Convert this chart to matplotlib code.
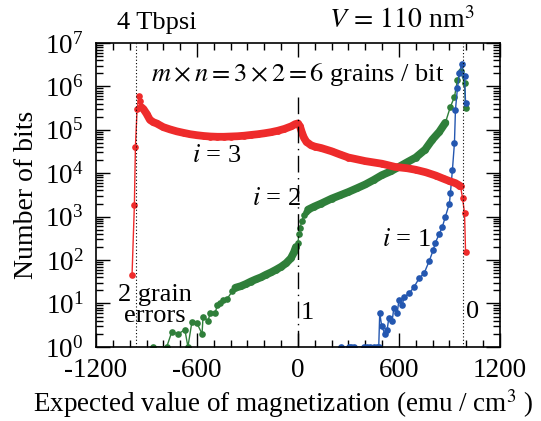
import numpy as np
import matplotlib
matplotlib.use("Agg")
import matplotlib.pyplot as plt
from matplotlib.ticker import MultipleLocator, LogLocator, NullFormatter

plt.rcParams['font.family'] = ['Liberation Serif', 'DejaVu Serif']
plt.rcParams['mathtext.fontset'] = 'stix'
plt.rcParams['axes.unicode_minus'] = False
plt.rcParams['font.size'] = 20

## DATA
# i = 3 (red)
red_x = [-986, -972, -966, -956, -944, -940, -930, -918, -900, -880, -860, -840, -800,
         -760, -720, -680, -640, -600, -560, -520, -480, -440, -400, -360, -320, -280,
         -240, -200, -160, -120, -80, -40, -16, 0, 12, 24, 36, 50, 78, 100, 138, 200,
         250, 300, 400, 500, 576, 650, 700, 760, 820, 860, 900, 936, 960, 966, 978, 990, 996]
red_y = [45, 1900, 4e4, 3e5, 6e5, 4.5e5, 3.3e5, 3e5, 2.35e5, 1.7e5, 1.5e5, 1.4e5, 1.15e5,
         1.02e5, 9.2e4, 8.5e4, 7.9e4, 7.5e4, 7.2e4, 7.0e4, 6.9e4, 6.9e4, 7.0e4, 7.1e4, 7.3e4, 7.6e4,
         7.9e4, 8.3e4, 8.8e4, 9.5e4, 1.05e5, 1.2e5, 1.35e5, 1.4e5, 1.2e5, 8.5e4, 6.5e4, 5.3e4, 4.4e4, 4.1e4, 3.8e4, 3.2e4,
         2.7e4, 2.3e4, 1.9e4, 1.65e4, 1.4e4, 1.3e4, 1.2e4, 1.05e4, 8.8e3, 7.6e3, 6.6e3, 5.9e3, 5.2e3, 5.0e3, 2.7e3, 1.2e3, 155]

# i = 2 (green)
green_x = [-862, -780, -750, -710, -672, -654, -630, -600, -570, -564, -534, -522, -492,
           -480, -462, -444, -420, -390, -372, -340, -310, -280, -250, -220, -190, -160,
           -130, -100, -70, -42, -24, -12, 0, 6, 12, 24, 36, 48, 60, 96, 138, 200, 250,
           300, 350, 400, 450, 498, 550, 600, 650, 700, 756, 798, 840, 876, 906, 930, 948, 966, 990, 996]
green_y = [1, 1, 2.2, 2, 2.5, 1, 3.8, 3.5, 2, 5, 4, 6, 6,
           9, 10, 12, 13, 19, 23, 25, 28, 32, 36, 40, 46, 52,
           60, 70, 85, 110, 150, 200, 250, 400, 550, 800, 1100, 1300, 1450, 1700, 2000, 2600, 3100,
           3700, 4500, 5500, 7000, 9000, 1.1e4, 1.4e4, 1.8e4, 2.3e4, 3.5e4, 5.9e4, 9e4, 1.45e5, 3.4e5, 5.7e5, 1.4e6, 2.2e6, 1.2e6, 3.2e5]

# i = 1 (blue)
blue_x = [258, 306, 318, 336, 390, 408, 426, 450, 468, 480, 486, 498, 516, 530, 540, 560,
          570, 590, 600, 620, 630, 660, 690, 720, 750, 780, 804, 816, 840, 858, 876, 900,
          906, 918, 930, 936, 948, 960, 972, 990, 996]
blue_y = [1, 1, 1, 1, 1, 1, 1, 1, 1, 1, 6, 3, 2, 2.5, 4.6, 4,
          8, 6, 12, 9, 14, 17, 24, 38, 50, 95, 170, 250, 400, 580, 1000, 2000,
          3500, 1.2e4, 5e4, 2.9e5, 9.3e5, 2.0e6, 3.2e6, 1.7e6, 4.2e5]

red_col = '#ee2b2b'
green_col = '#2f7f3a'
blue_col = '#2457b0'

fig = plt.figure(figsize=(5.41, 4.21), dpi=100)
ax = fig.add_axes([0.1775, 0.176, 0.7465, 0.722])

ms = 4.8
band = 5.6
# thin lines + markers for every point
ax.plot(green_x, green_y, '-', color=green_col, lw=1, marker='o', ms=ms, mew=0)
ax.plot(blue_x, blue_y, '-', color=blue_col, lw=1, marker='o', ms=ms, mew=0)
ax.plot(red_x, red_y, '-', color=red_col, lw=1, marker='o', ms=ms, mew=0)
# densely sampled stretches drawn as thick bands
ax.plot(green_x[18:32], green_y[18:32], '-', color=green_col, lw=band, solid_capstyle='round')
ax.plot(green_x[38:56], green_y[38:56], '-', color=green_col, lw=band, solid_capstyle='round')
ax.plot(red_x[6:56], red_y[6:56], '-', color=red_col, lw=band, solid_capstyle='round')

# guide lines
ax.axvline(-960, color='k', lw=0.8, ls=(0, (1, 2)))
ax.axvline(980, color='k', lw=0.8, ls=(0, (1, 2)))
ax.axvline(0, ymax=0.84, color='k', lw=1, ls=(0, (12, 4, 1, 4)))

ax.set_yscale('log')
ax.set_xlim(-1200, 1200)
ax.set_ylim(1, 1e7)
ax.xaxis.set_major_locator(MultipleLocator(600))
ax.xaxis.set_minor_locator(MultipleLocator(100))
ax.yaxis.set_major_locator(LogLocator(base=10, numticks=10))
ax.yaxis.set_minor_locator(LogLocator(base=10, subs=np.arange(2, 10), numticks=10))
ax.yaxis.set_minor_formatter(NullFormatter())
ax.tick_params(which='both', direction='in', top=True, right=True, width=1)
ax.tick_params(which='major', length=10, labelsize=19.5, pad=9)
ax.tick_params(axis='x', which='major', pad=8)
ax.tick_params(which='minor', length=5)
for s in ax.spines.values():
    s.set_linewidth(1.2)

fig.text(0.523, 0.042, "Expected value of magnetization (emu / cm$^3$ )", fontsize=19.5,
         ha='center', va='center')
ax.set_ylabel("Number of bits", fontsize=20, labelpad=4)

ax.text(0.052, 1.03, "4 Tbpsi", transform=ax.transAxes, fontsize=19, ha='left', va='bottom')
ax.text(0.757, 1.03, r"$V\,=\,110$ nm$^3$", transform=ax.transAxes, fontsize=20, ha='center', va='bottom')
ax.text(0, 1.85e6, r"$m \times n = 3 \times 2 = 6$ grains / bit", fontsize=19, ha='center', va='center')
ax.text(-480, 2.5e4, "$i$ = 3", fontsize=19, ha='center', va='center')
ax.text(-126, 2.5e3, "$i$ = 2", fontsize=19, ha='center', va='center')
ax.text(648, 295, "$i$ = 1", fontsize=19, ha='center', va='center')
ax.text(-850, 8.8, "2 grain\nerrors", fontsize=19, ha='center', va='center', linespacing=0.95)
ax.text(54, 6, "1", fontsize=19, ha='center', va='center')
ax.text(1038, 6.3, "0", fontsize=19, ha='center', va='center')

fig.savefig("out.png", dpi=100)
